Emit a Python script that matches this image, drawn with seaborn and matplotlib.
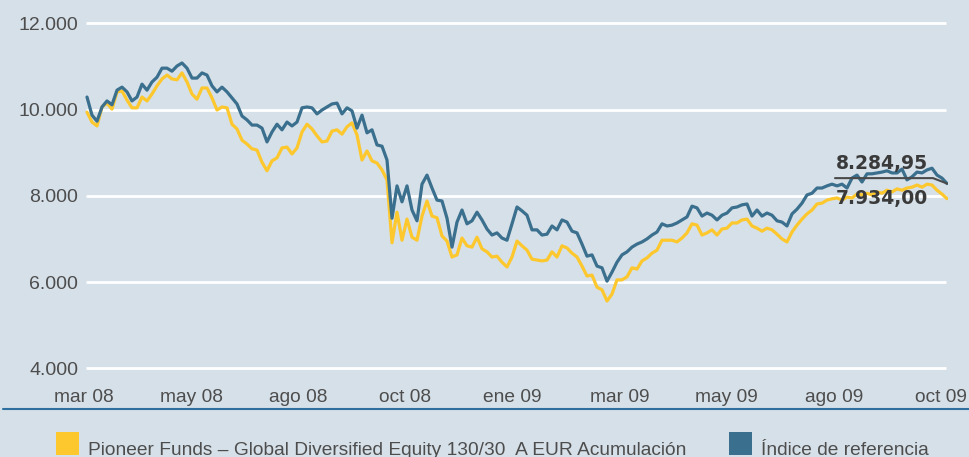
import numpy as np
import pandas as pd
import matplotlib
matplotlib.use("Agg")
import matplotlib.pyplot as plt
import seaborn as sns
from matplotlib.patches import Rectangle
from matplotlib.lines import Line2D

# Weekly closing values, mar 08 - oct 09
fund_values = [
    9940, 9710, 9620, 10060, 10150, 10010, 10410, 10430, 10220, 10040,
    10040, 10290, 10200, 10360, 10550, 10710, 10800, 10710, 10690, 10850,
    10640, 10360, 10240, 10500, 10500, 10270, 9990, 10060, 10040, 9660,
    9550, 9290, 9200, 9090, 9060, 8780, 8580, 8810, 8880, 9110,
    9130, 8970, 9110, 9480, 9660, 9550, 9390, 9250, 9270, 9500,
    9530, 9430, 9600, 9690, 9410, 8830, 9040, 8810, 8760, 8600,
    8370, 6910, 7620, 6970, 7460, 7040, 6970, 7530, 7880, 7530,
    7490, 7070, 6950, 6580, 6630, 7020, 6840, 6810, 7040, 6770,
    6700, 6580, 6600, 6460, 6350, 6580, 6950, 6840, 6740, 6530,
    6510, 6490, 6510, 6700, 6580, 6840, 6790, 6670, 6580, 6370,
    6140, 6160, 5880, 5820, 5560, 5720, 6050, 6050, 6120, 6330,
    6300, 6490, 6560, 6670, 6740, 6970, 6970, 6970, 6930, 7020,
    7140, 7350, 7320, 7090, 7140, 7210, 7090, 7230, 7250, 7370,
    7370, 7440, 7460, 7300, 7250, 7180, 7250, 7210, 7110, 7000,
    6930, 7160, 7320, 7460, 7580, 7670, 7810, 7830, 7900, 7930,
    7950, 7900, 7970, 7950, 8040, 8020, 8060, 8020, 8090, 8060,
    8130, 8090, 8160, 8130, 8180, 8200, 8250, 8200, 8270, 8250,
    8130, 8040, 7934.00,
]

benchmark_values = [
    10290, 9870, 9730, 10060, 10200, 10110, 10450, 10520, 10410, 10200,
    10290, 10590, 10450, 10640, 10750, 10960, 10960, 10890, 11010, 11080,
    10960, 10730, 10730, 10850, 10800, 10550, 10410, 10520, 10410, 10270,
    10130, 9850, 9760, 9640, 9640, 9570, 9250, 9480, 9660, 9530,
    9710, 9620, 9710, 10040, 10060, 10040, 9900, 9990, 10060, 10130,
    10150, 9900, 10040, 9970, 9570, 9870, 9460, 9530, 9180, 9150,
    8830, 7480, 8230, 7860, 8230, 7670, 7420, 8270, 8480, 8180,
    7900, 7880, 7480, 6810, 7390, 7670, 7350, 7420, 7620, 7440,
    7230, 7090, 7140, 7020, 6970, 7350, 7740, 7650, 7550, 7210,
    7210, 7090, 7110, 7300, 7210, 7440, 7390, 7180, 7140, 6880,
    6600, 6630, 6370, 6330, 6020, 6230, 6460, 6630, 6700, 6810,
    6880, 6930, 7000, 7090, 7160, 7350, 7300, 7320, 7370, 7440,
    7510, 7760, 7720, 7530, 7600, 7550, 7440, 7550, 7600, 7720,
    7740, 7790, 7810, 7530, 7670, 7530, 7600, 7550, 7420, 7390,
    7300, 7580, 7690, 7830, 8020, 8060, 8180, 8180, 8230, 8270,
    8230, 8270, 8180, 8410, 8480, 8320, 8510, 8510, 8530, 8550,
    8580, 8530, 8530, 8620, 8370, 8440, 8550, 8530, 8600, 8640,
    8480, 8410, 8284.95,
]

month_labels = ["mar 08", "may 08", "ago 08", "oct 08", "ene 09",
                "mar 09", "may 09", "ago 09", "oct 09"]
y_ticks = [4000, 6000, 8000, 10000, 12000]

fund_name = "Pioneer Funds \u2013 Global Diversified Equity 130/30  A EUR Acumulaci\u00f3n"
benchmark_name = "\u00cdndice de referencia"

BG = "#d6e0e8"
YELLOW = "#fdc72e"
BLUE = "#3a6f8e"
TEXT = "#4d4d4d"
DARK = "#3a3a3a"


def es_number(v, decimals=0):
    s = f"{v:,.{decimals}f}"
    return s.replace(",", "X").replace(".", ",").replace("X", ".")


n = len(fund_values)
df = pd.DataFrame({
    "t": list(range(n)) * 2,
    "valor": fund_values + benchmark_values,
    "serie": [fund_name] * n + [benchmark_name] * n,
})

sns.set_style("white")
plt.rcParams["font.family"] = ["Liberation Sans", "DejaVu Sans"]

W, H = 969, 457
fig = plt.figure(figsize=(W / 100, H / 100), dpi=100)
fig.patch.set_facecolor(BG)

# axes box in pixel terms
left_px, right_px, top_px, bottom_px = 83, 948, 14.7, 376.9
ax = fig.add_axes([left_px / W, 1 - bottom_px / H,
                   (right_px - left_px) / W, (bottom_px - top_px) / H])
ax.set_facecolor(BG)

ax.hlines(y_ticks, -0.2, n - 1.2, colors="white", linewidth=2.0, zorder=0.5)

sns.lineplot(data=df, x="t", y="valor", hue="serie",
             palette={fund_name: YELLOW, benchmark_name: BLUE},
             linewidth=2.3, legend=False, ax=ax, zorder=2)

ax.set_xlim(-0.8, n - 1 + 0.2)
ax.set_ylim(3800, 12200)
for s in ax.spines.values():
    s.set_visible(False)

ax.set_yticks(y_ticks)
ax.set_yticklabels([es_number(v) for v in y_ticks])
ax.set_xticks(np.linspace(-0.6, n - 2.2, len(month_labels)))
ax.set_xticklabels(month_labels)
ax.tick_params(axis="y", length=0, pad=3.6, labelsize=14, labelcolor=TEXT)
ax.tick_params(axis="x", length=0, pad=8.5, labelsize=13.8, labelcolor=TEXT)
ax.set_xlabel("")
ax.set_ylabel("")

# closing values with leader line
last_b = benchmark_values[-1]
last_f = fund_values[-1]
ax.plot([n - 1 - 22.4, n - 1 - 2.8, n - 1], [last_b + 125, last_b + 125, last_b],
        color="#4a4a4a", linewidth=1.5, zorder=3)
ax.annotate(es_number(last_b, 2), xy=(n - 1, last_b), xytext=(-13.7, 10.2),
            textcoords="offset points", ha="right", va="baseline",
            fontsize=13.5, fontweight="bold", color=DARK,
            family=["DejaVu Sans"], zorder=4)
ax.annotate(es_number(last_f, 2), xy=(n - 1, last_f), xytext=(-13.7, -3.9),
            textcoords="offset points", ha="right", va="baseline",
            fontsize=13.5, fontweight="bold", color=DARK,
            family=["DejaVu Sans"], zorder=4)

# rule under the axis labels
fig.add_artist(Line2D([3 / W, 1], [1 - 409 / H] * 2, transform=fig.transFigure,
                      color="#2f6f9f", linewidth=1.5))

# legend row
for x0, color, label in [(56, YELLOW, fund_name), (729, BLUE, benchmark_name)]:
    fig.add_artist(Rectangle((x0 / W, 1 - 455 / H), 23 / W, 23 / H,
                             transform=fig.transFigure, facecolor=color,
                             edgecolor="none"))
    fig.text((x0 + 32) / W, 1 - 455 / H, label, fontsize=13.8, color=TEXT,
             ha="left", va="baseline")

fig.savefig("out.png", dpi=100, facecolor=BG)
